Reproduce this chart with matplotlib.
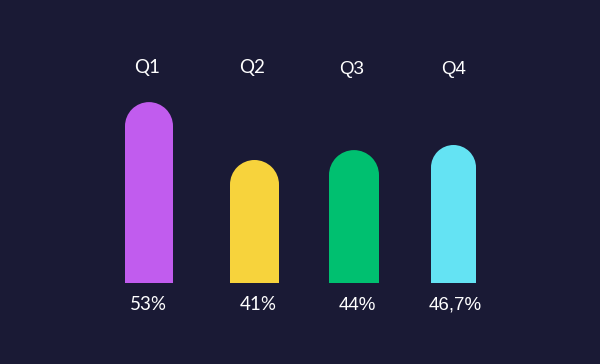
import matplotlib
matplotlib.use('Agg')
import matplotlib.pyplot as plt
from matplotlib.patches import Ellipse

# data
quarters = ['Q1', 'Q2', 'Q3', 'Q4']
value_labels = ['53%', '41%', '44%', '46,7%']
bar_heights = [60.3, 41.0, 44.3, 46.0]
colors = ['#c15cee', '#f7d33c', '#00c070', '#64e3f3']

# layout (x in pixels, y in value units, 3 px per unit)
x_pos = [149, 254.5, 354, 453.5]
bar_widths = [48, 49, 50, 45]
label_x = [147, 252, 352, 454]
pct_x = [148, 258, 357, 455]
px_per_unit = 3.0
base_px = 81

bg = '#1a1a35'
fig = plt.figure(figsize=(6, 3.64), dpi=100)
fig.patch.set_facecolor(bg)
ax = fig.add_axes([0, 0, 1, 1])
ax.set_facecolor(bg)
ax.set_xlim(0, 600)
ax.set_ylim(-base_px / px_per_unit, (364 - base_px) / px_per_unit)
ax.axis('off')

for i in range(len(quarters)):
    w = bar_widths[i]
    ry = (w / 2) / px_per_unit
    ax.bar(x_pos[i], bar_heights[i] - ry, width=w, bottom=0, color=colors[i], linewidth=0)
    ax.add_patch(Ellipse((x_pos[i], bar_heights[i] - ry), w, 2 * ry, color=colors[i], linewidth=0))

    fam = ['Lato', 'DejaVu Sans'] if i < 2 else ['Liberation Sans', 'DejaVu Sans']
    ax.text(label_x[i], (364 - base_px - 73.5) / px_per_unit, quarters[i], color='white',
            fontsize=13.5, ha='center', va='baseline', family=fam)
    ax.text(pct_x[i], (364 - base_px - 309.5) / px_per_unit, value_labels[i], color='white',
            fontsize=13.5, ha='center', va='baseline', family=fam)

fig.savefig('out.png', dpi=100, facecolor=bg)
